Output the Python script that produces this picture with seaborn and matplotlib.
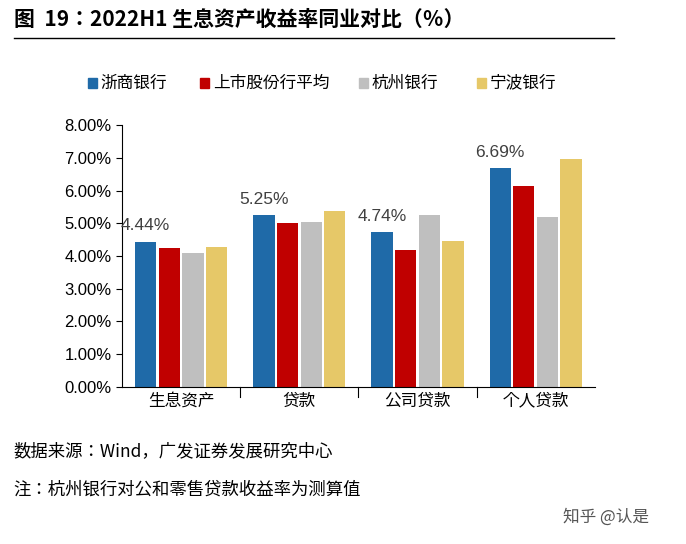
import matplotlib
matplotlib.use("Agg")
import matplotlib.pyplot as plt
import seaborn as sns
import pandas as pd

plt.rcParams["font.family"] = ["Noto Sans CJK JP", "DejaVu Sans"]

categories = ["生息资产", "贷款", "公司贷款", "个人贷款"]
series = ["浙商银行", "上市股份行平均", "杭州银行", "宁波银行"]
zheshang = [4.44, 5.25, 4.74, 6.69]
avg = [4.25, 5.00, 4.18, 6.15]
hangzhou = [4.10, 5.05, 5.25, 5.20]
ningbo = [4.27, 5.38, 4.45, 6.97]
colors = ["#1f6aa8", "#c00000", "#bfbfbf", "#e6c868"]

rows = []
for s, vals in zip(series, [zheshang, avg, hangzhou, ningbo]):
    for c, v in zip(categories, vals):
        rows.append({"cat": c, "series": s, "val": v})
df = pd.DataFrame(rows)

fig = plt.figure(figsize=(6.86, 5.44), dpi=100)
ax = fig.add_axes([0.178, 0.289, 0.689, 0.481])
sns.barplot(data=df, x="cat", y="val", hue="series", palette=colors, ax=ax,
            width=0.8, gap=0.1, legend=False, saturation=1)
ax.set_ylim(0, 8)
ax.set_yticks(range(9))
ax.set_yticklabels([f"{i}.00%" for i in range(9)], fontsize=12, fontfamily="Liberation Sans")
ax.set_xlabel(""); ax.set_ylabel("")
ax.tick_params(axis="x", labelsize=12, length=0, pad=4)
ax.tick_params(axis="y", length=4)
for sp in ["top", "right"]:
    ax.spines[sp].set_visible(False)
for i in range(1, 4):
    ax.axvline(i - 0.5, ymin=-0.04, ymax=0, color="black", lw=0.8, clip_on=False)
for i, v in enumerate(zheshang):
    ax.text(i - 0.3, v + 0.25, f"{v:.2f}%", ha="center", va="bottom", fontsize=12.5,
            color="#404040", fontfamily="Liberation Sans")

lx = [0.128, 0.292, 0.523, 0.695]
for x, s, c in zip(lx, series, colors):
    fig.patches.append(plt.Rectangle((x, 0.838), 0.013, 0.018, color=c, transform=fig.transFigure))
    fig.text(x + 0.019, 0.847, s, fontsize=12, va="center")

fig.text(0.02, 0.965, "图  19：2022H1 生息资产收益率同业对比（％）", fontsize=15, fontweight="bold", va="center")
fig.add_artist(plt.Line2D([0.02, 0.895], [0.93, 0.93], color="black", lw=1))
fig.text(0.02, 0.17, "数据来源：Wind，广发证券发展研究中心", fontsize=12.5, va="center")
fig.text(0.02, 0.10, "注：杭州银行对公和零售贷款收益率为测算值", fontsize=12.5, va="center")
fig.text(0.82, 0.05, "知乎 @认是", fontsize=12, va="center", color="#555555")
fig.savefig("out.png", dpi=100)
